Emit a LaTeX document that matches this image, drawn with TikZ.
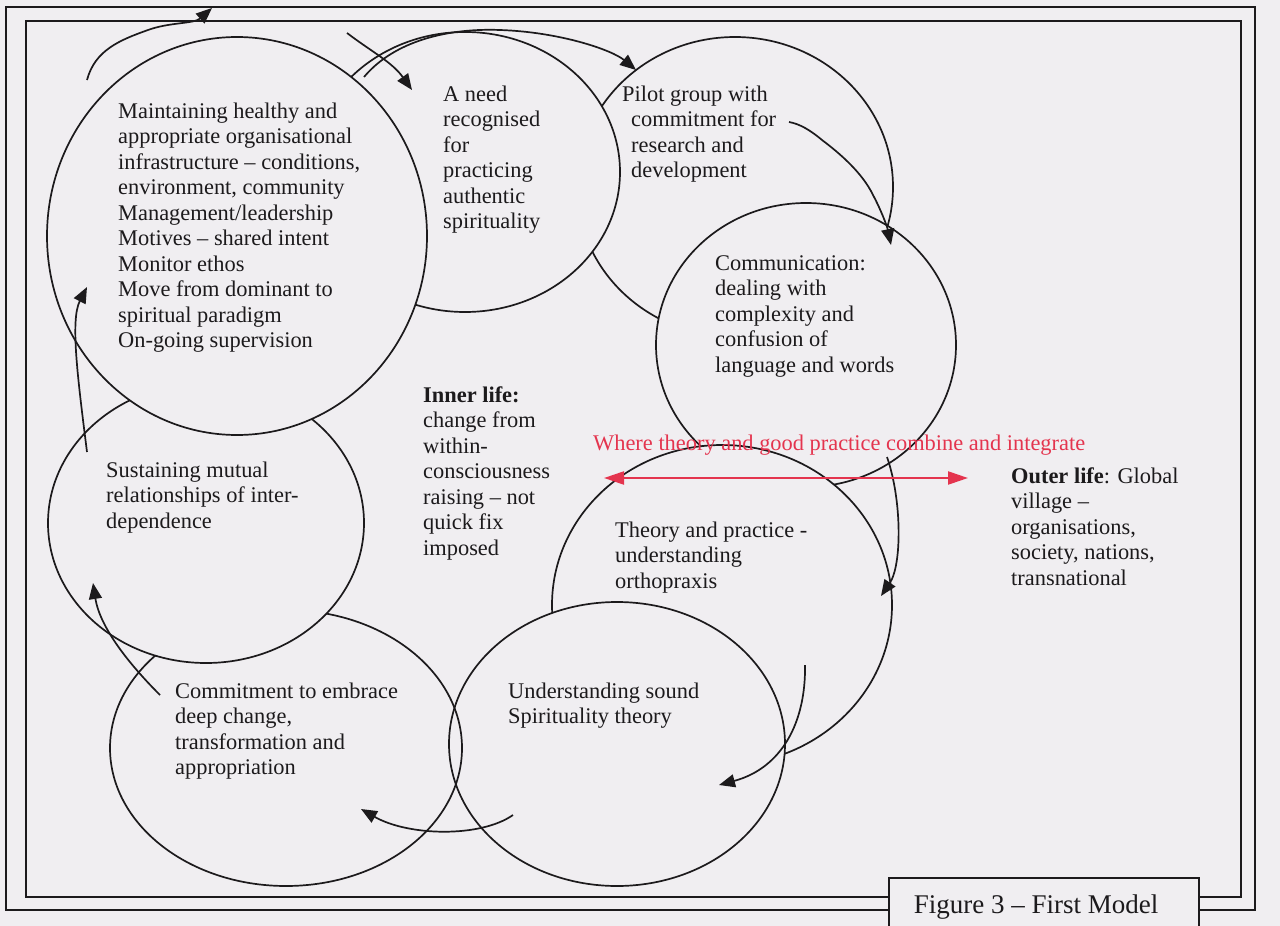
\documentclass[tikz,border=0pt]{standalone}
\usepackage{fontspec}
\setmainfont{Liberation Serif}
\usetikzlibrary{arrows.meta,shapes.geometric}
\definecolor{bg}{RGB}{240,238,241}
\definecolor{ink}{RGB}{28,26,28}
\definecolor{redink}{RGB}{228,52,78}
\begin{document}
\begin{tikzpicture}[x=1pt,y=-1pt,
  ring/.style={ellipse, draw=ink, line width=1.7pt, fill=bg, inner sep=0pt, outer sep=0pt},
  ringopen/.style={ellipse, draw=ink, line width=1.7pt, inner sep=0pt, outer sep=0pt},
  txt/.style={anchor=north west, inner sep=0pt, align=left, text=ink, font=\fontsize{22.4}{25.5}\selectfont},
  arr/.style={draw=ink, line width=1.7pt, -{Triangle[length=16pt,width=13pt]}},
  redarr/.style={draw=redink, line width=2.2pt, {Triangle[length=20pt,width=13pt]}-{Triangle[length=20pt,width=13pt]}},
  framel/.style={draw=ink, line width=1.9pt}
]
\useasboundingbox (0,0) rectangle (1280,926);
\fill[bg] (0,0) rectangle (1280,926);
% frame
\draw[framel] (6,7) rectangle (1255,910);
\draw[framel] (26,21) rectangle (1241,897);
% circles (back to front)
\node[ring, minimum width=316pt, minimum height=300pt] (E3) at (735,187) {};
\node[ring, minimum width=300pt, minimum height=284pt] (E4) at (806,345) {};
\node[ring, minimum width=340pt, minimum height=320pt] (ET) at (722,605) {};
\node[ring, minimum width=336pt, minimum height=284pt] (EU) at (617,744) {};
\node[ringopen, minimum width=352pt, minimum height=276pt] (EC) at (286,748) {};
\node[ring, minimum width=316pt, minimum height=280pt] (ES) at (206,523) {};
\node[ring, minimum width=310pt, minimum height=280pt] (E2) at (465,172) {};
\node[ring, minimum width=380pt, minimum height=398pt] (E1) at (237,236) {};
% caption box
\draw[framel, fill=bg] (889,878) rectangle (1199,945);
\node[inner sep=0pt, text=ink, font=\fontsize{27}{30}\selectfont] (cap) at (1036,907) {Figure 3 – First Model};
% texts
\node[txt] (t1) at (118,100) {\strut Maintaining healthy and\\appropriate organisational\\infrastructure – conditions,\\environment, community\\Management/leadership\\Motives – shared intent\\Monitor ethos\\Move from dominant to\\spiritual paradigm\\On-going supervision};
\node[txt] (t2) at (443,83) {\strut A need\\recognised\\for\\practicing\\authentic\\spirituality};
\node[txt] (t3) at (622,83) {\strut Pilot group with\\\hspace*{9pt}commitment for\\\hspace*{9pt}research and\\\hspace*{9pt}development};
\node[txt] (t4) at (715,252) {\strut Communication:\\dealing with\\complexity and\\confusion of\\language and words};
\node[txt] (t5) at (423,384) {\strut\textbf{Inner life:}\\change from\\within-\\consciousness\\raising – not\\quick fix\\imposed};
\node[txt] (t6) at (106,459) {\strut Sustaining mutual\\relationships of inter-\\dependence};
\node[txt] (t7) at (175,680) {\strut Commitment to embrace\\deep change,\\transformation and\\appropriation};
\node[txt] (t8) at (508,680) {\strut Understanding sound\\Spirituality theory};
\node[txt] (t9) at (615,519) {\strut Theory and practice -\\understanding\\orthopraxis};
\node[txt] (t10) at (1011,465) {\strut\textbf{Outer life}: Global\\village –\\organisations,\\society, nations,\\transnational};
\node[txt, text=redink] (t11) at (593,432) {\strut Where theory and good practice combine and integrate};
% arrow end points
\coordinate (a0) at (87,80);   \coordinate (a1) at (212,8);
\coordinate (b0) at (347,33);  \coordinate (b1) at (412,90);
\coordinate (c0) at (364,77);  \coordinate (c1) at (636,70);
\coordinate (d0) at (789,122); \coordinate (d1) at (891,245);
\coordinate (e0) at (887,457); \coordinate (e1) at (881,596);
\coordinate (f0) at (805,665); \coordinate (f1) at (719,785);
\coordinate (g0) at (513,815); \coordinate (g1) at (361,809);
\coordinate (h0) at (160,695); \coordinate (h1) at (93,583);
\coordinate (i0) at (87,452);  \coordinate (i1) at (87,287);
\coordinate (r0) at (604,478); \coordinate (r1) at (968,478);
% arrows
\draw[arr] (a0) .. controls (95,50) and (120,40) .. (148,30) .. controls (170,22) and (194,24) .. (a1);
\draw[arr] (b0) .. controls (372,52) and (392,62) .. (b1);
\draw[arr] (c0) .. controls (395,40) and (450,28) .. (500,30) .. controls (560,32) and (612,50) .. (c1);
\draw[arr] (d0) .. controls (800,124) and (810,130) .. (822,140) .. controls (838,152) and (862,172) .. (873,195) .. controls (881,210) and (887,226) .. (d1);
\draw[arr] (e0) .. controls (902,500) and (902,565) .. (e1);
\draw[arr] (f0) .. controls (806,722) and (782,768) .. (f1);
\draw[arr] (g0) .. controls (480,838) and (408,836) .. (g1);
\draw[arr] (h0) .. controls (130,665) and (100,628) .. (h1);
\draw[arr] (i0) .. controls (78,380) and (70,320) .. (i1);
\draw[redarr] (r0) -- (r1);
\end{tikzpicture}
\end{document}
